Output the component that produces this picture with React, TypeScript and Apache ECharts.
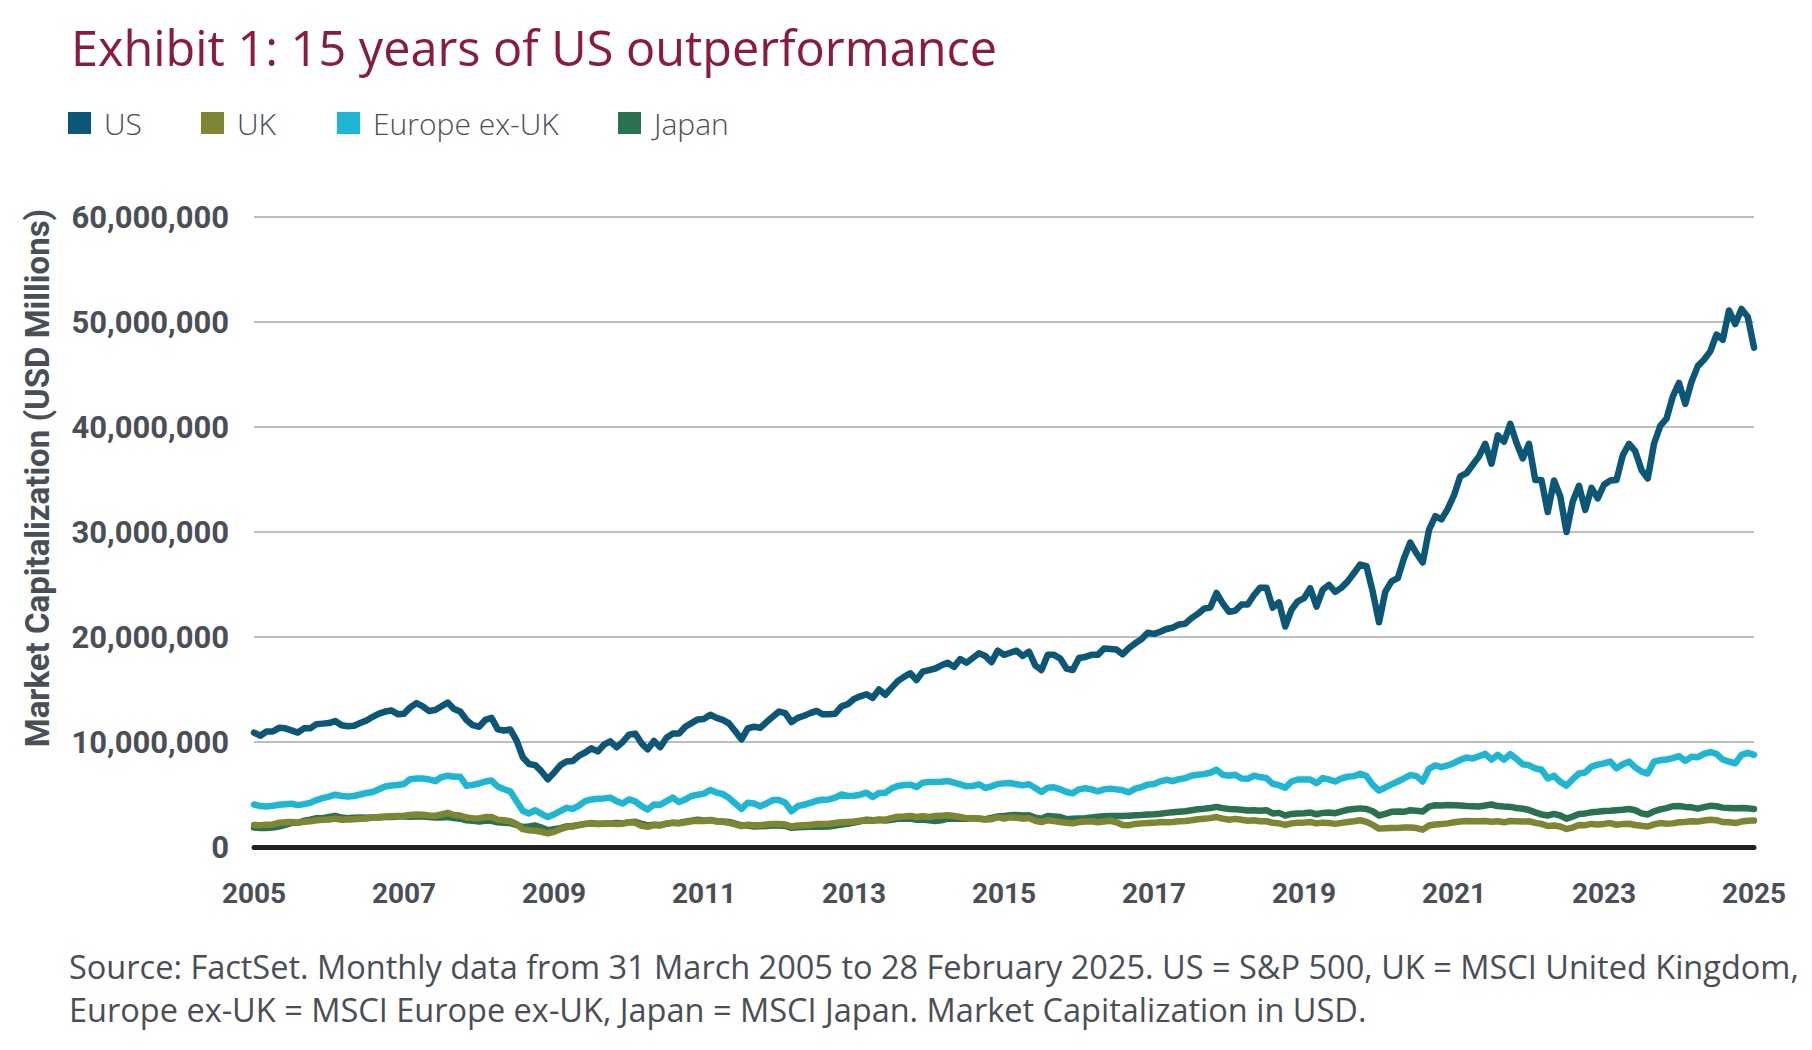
import React, { useEffect, useRef } from "react";
import * as echarts from "echarts";

// Monthly observations, Mar 2005 .. Mar 2025 (241 points), values in millions of "USD Millions"
const START_YEAR = 2005;
const START_MONTH = 3;
const N_MONTHS = 241;

const US = [
  10.9, 10.6, 11.0, 11.0, 11.35, 11.3, 11.1, 10.9, 11.3, 11.3, 11.7, 11.75, 11.8, 12.0, 11.6, 11.5, 11.55, 11.8, 12.05, 12.4,
  12.7, 12.9, 13.0, 12.65, 12.7, 13.3, 13.7, 13.4, 12.95, 13.05, 13.4, 13.75, 13.15, 12.9, 12.1, 11.6, 11.45, 12.1, 12.3, 11.2,
  11.1, 11.2, 10.15, 8.55, 7.9, 7.8, 7.2, 6.45, 7.07,
  7.78, 8.15, 8.2, 8.7, 9.0, 9.4, 9.1, 9.74, 10.06, 9.5, 10.0, 10.7, 10.8, 9.87, 9.3, 10.1, 9.5, 10.4, 10.8, 10.8,
  11.45, 11.8, 12.15, 12.2, 12.6, 12.3, 12.1, 11.77, 11.03, 10.25, 11.3, 11.45, 11.35, 11.9, 12.4, 12.9, 12.75, 11.9, 12.3, 12.5,
  12.75, 12.96, 12.64, 12.64, 12.7, 13.4, 13.6, 14.1, 14.35,
  14.55, 14.2, 15.0, 14.5, 15.15, 15.8, 16.2, 16.55, 15.9, 16.7, 16.85, 17.0, 17.3, 17.55, 17.15, 17.9, 17.55, 18.0, 18.45, 18.2,
  17.6, 18.7, 18.3, 18.5, 18.7, 18.2, 18.6, 17.3, 16.85, 18.3, 18.3, 17.95, 17.0, 16.85, 18.0, 18.1, 18.3, 18.3, 18.9, 18.85,
  18.8, 18.35, 18.95, 19.4, 19.8, 20.4, 20.3, 20.5,
  20.76, 20.9, 21.2, 21.27, 21.8, 22.2, 22.7, 22.8, 24.2, 23.2, 22.4, 22.5, 23.1, 23.1, 24.0, 24.7, 24.7, 22.8, 23.3, 21.0,
  22.6, 23.4, 23.7, 24.65, 22.9, 24.5, 24.97, 24.3, 24.7, 25.3, 26.1, 26.9, 26.75, 24.3, 21.4, 24.3, 25.3, 25.6, 27.5, 29.0,
  27.96, 27.1, 30.2, 31.5, 31.2, 32.2, 33.5,
  35.3, 35.6, 36.4, 37.2, 38.4, 36.5, 39.2, 38.6, 40.3, 38.5, 37.0, 38.4, 34.95, 34.95, 31.9, 34.9, 33.4, 30.0, 32.9, 34.4,
  32.1, 34.2, 33.2, 34.5, 34.9, 34.95, 37.3, 38.4, 37.7, 35.9, 35.1, 38.4, 40.1, 40.8, 42.9, 44.2, 42.2, 44.3, 45.8, 46.4,
  47.2, 48.8, 48.3, 51.1, 49.8, 51.24, 50.5, 47.55,
];

const UK = [
  2.1, 2.08, 2.12, 2.15, 2.3, 2.35, 2.38, 2.3, 2.4, 2.45, 2.55, 2.6, 2.62, 2.7, 2.6, 2.62, 2.65, 2.7, 2.72, 2.8,
  2.85, 2.9, 2.92, 2.95, 2.98, 3.05, 3.1, 3.08, 3.0, 2.98, 3.1, 3.25, 3.05, 3.0, 2.8, 2.75, 2.72, 2.85, 2.85, 2.6,
  2.55, 2.45, 2.2, 1.7, 1.6, 1.55, 1.45, 1.3, 1.45,
  1.7, 1.9, 1.95, 2.1, 2.2, 2.28, 2.22, 2.25, 2.25, 2.2, 2.22, 2.35, 2.3, 2.03, 1.92, 2.1, 2.05, 2.25, 2.32, 2.25,
  2.35, 2.45, 2.5, 2.48, 2.55, 2.45, 2.4, 2.3, 2.15, 1.98, 2.12, 2.08, 2.08, 2.15, 2.2, 2.2, 2.15, 1.95, 2.05, 2.08,
  2.12, 2.18, 2.18, 2.22, 2.28, 2.35, 2.38, 2.42, 2.5,
  2.52, 2.5, 2.62, 2.6, 2.75, 2.88, 2.9, 2.95, 2.85, 2.92, 2.85, 2.95, 2.98, 3.02, 2.95, 2.85, 2.75, 2.72, 2.72, 2.62,
  2.65, 2.82, 2.72, 2.82, 2.78, 2.7, 2.75, 2.5, 2.38, 2.55, 2.48, 2.38, 2.3, 2.25, 2.38, 2.42, 2.45, 2.35, 2.42, 2.5,
  2.35, 2.1, 2.08, 2.2, 2.25, 2.28, 2.3, 2.38,
  2.35, 2.38, 2.45, 2.48, 2.55, 2.65, 2.7, 2.75, 2.85, 2.7, 2.6, 2.68, 2.6, 2.5, 2.55, 2.45, 2.45, 2.3, 2.25, 2.1,
  2.25, 2.3, 2.32, 2.38, 2.25, 2.32, 2.28, 2.2, 2.3, 2.38, 2.45, 2.55, 2.4, 2.1, 1.75, 1.78, 1.8, 1.82, 1.85, 1.85,
  1.8, 1.65, 2.05, 2.15, 2.18, 2.25, 2.35,
  2.42, 2.48, 2.45, 2.45, 2.48, 2.4, 2.45, 2.35, 2.48, 2.45, 2.42, 2.45, 2.3, 2.2, 2.0, 2.05, 1.95, 1.72, 1.85, 2.1,
  2.08, 2.2, 2.15, 2.2, 2.28, 2.12, 2.18, 2.22, 2.1, 2.02, 1.95, 2.15, 2.28, 2.22, 2.25, 2.35, 2.38, 2.45, 2.42, 2.52,
  2.6, 2.55, 2.38, 2.35, 2.28, 2.42, 2.5, 2.52,
];

const EUROPE_EX_UK = [
  4.05, 3.9, 3.86, 3.92, 4.02, 4.08, 4.12, 3.99, 4.08, 4.2, 4.47, 4.66, 4.8, 4.98, 4.86, 4.82, 4.86, 5.0, 5.14, 5.24,
  5.5, 5.76, 5.85, 5.9, 6.0, 6.46, 6.53, 6.53, 6.43, 6.27, 6.66, 6.78, 6.69, 6.69, 5.82, 5.92, 6.05, 6.24, 6.33, 5.76,
  5.5, 5.3, 4.37, 3.45, 3.2, 3.5, 3.15, 2.85, 3.1,
  3.41, 3.73, 3.63, 3.95, 4.37, 4.53, 4.6, 4.63, 4.7, 4.37, 4.15, 4.53, 4.34, 3.89, 3.57, 4.05, 4.02, 4.37, 4.7, 4.28,
  4.53, 4.86, 4.98, 5.08, 5.43, 5.18, 5.05, 4.66, 4.15, 3.63, 4.21, 4.15, 3.89, 4.15, 4.47, 4.47, 4.21, 3.41, 3.89, 4.02,
  4.21, 4.4, 4.5, 4.53, 4.7, 5.0, 4.86, 4.88, 4.98,
  5.17, 4.76, 5.14, 5.17, 5.56, 5.81, 5.9, 5.94, 5.71, 6.13, 6.19, 6.19, 6.22, 6.29, 6.13, 5.97, 5.78, 5.81, 5.97, 5.62,
  5.78, 6.0, 6.06, 6.1, 5.97, 5.87, 5.97, 5.62, 5.24, 5.65, 5.68, 5.49, 5.24, 5.11, 5.49, 5.59, 5.49, 5.3, 5.49, 5.56,
  5.49, 5.4, 5.21, 5.56, 5.71, 5.94, 6.0, 6.25,
  6.4, 6.27, 6.46, 6.56, 6.78, 6.88, 6.94, 7.07, 7.36, 6.88, 6.78, 6.88, 6.53, 6.5, 6.78, 6.66, 6.56, 6.02, 5.89, 5.64,
  6.24, 6.43, 6.43, 6.43, 6.08, 6.56, 6.43, 6.24, 6.53, 6.69, 6.75, 6.97, 6.75, 5.92, 5.38, 5.67, 5.96, 6.24, 6.53, 6.85,
  6.75, 6.24, 7.45, 7.77, 7.61, 7.77, 8.0,
  8.3, 8.52, 8.42, 8.65, 8.87, 8.33, 8.78, 8.33, 8.84, 8.39, 7.88, 7.78, 7.49, 7.36, 6.53, 6.78, 6.2, 5.85, 6.46, 7.0,
  7.1, 7.65, 7.85, 7.97, 8.13, 7.49, 7.88, 8.13, 7.59, 7.17, 7.0, 8.13, 8.26, 8.33, 8.46, 8.65, 8.2, 8.59, 8.55, 8.87,
  9.04, 8.87, 8.33, 8.13, 7.97, 8.78, 8.97, 8.78,
];

const JAPAN = [
  1.85, 1.8, 1.82, 1.85, 1.95, 2.1, 2.3, 2.3, 2.5, 2.6, 2.75, 2.75, 2.85, 2.95, 2.8, 2.75, 2.78, 2.8, 2.78, 2.8,
  2.82, 2.85, 2.85, 2.9, 2.9, 2.88, 2.9, 2.9, 2.85, 2.8, 2.82, 2.85, 2.75, 2.7, 2.55, 2.5, 2.42, 2.5, 2.5, 2.35,
  2.3, 2.28, 2.1, 1.9, 1.95, 2.05, 1.85, 1.6, 1.7,
  1.8, 1.95, 2.0, 2.1, 2.2, 2.25, 2.2, 2.22, 2.25, 2.28, 2.25, 2.35, 2.4, 2.2, 2.05, 2.12, 2.1, 2.2, 2.3, 2.28,
  2.4, 2.5, 2.6, 2.5, 2.58, 2.45, 2.42, 2.38, 2.22, 2.05, 2.05, 1.95, 1.98, 2.0, 2.05, 2.05, 2.0, 1.82, 1.88, 1.9,
  1.92, 1.95, 1.92, 1.95, 2.05, 2.15, 2.22, 2.32, 2.45,
  2.6, 2.55, 2.58, 2.52, 2.6, 2.68, 2.7, 2.72, 2.6, 2.62, 2.55, 2.48, 2.55, 2.7, 2.68, 2.72, 2.7, 2.75, 2.7, 2.65,
  2.78, 2.9, 2.95, 3.02, 3.05, 3.0, 3.02, 2.8, 2.7, 2.95, 2.9, 2.85, 2.65, 2.68, 2.72, 2.75, 2.82, 2.88, 2.92, 2.95,
  2.95, 2.95, 2.98, 3.02, 3.05, 3.1, 3.12, 3.17,
  3.25, 3.3, 3.35, 3.4, 3.5, 3.6, 3.65, 3.72, 3.82, 3.7, 3.62, 3.6, 3.55, 3.48, 3.5, 3.45, 3.5, 3.2, 3.25, 3.0,
  3.15, 3.2, 3.22, 3.28, 3.12, 3.25, 3.28, 3.22, 3.4, 3.55, 3.62, 3.68, 3.62, 3.4, 3.0, 3.15, 3.35, 3.38, 3.35, 3.5,
  3.45, 3.38, 3.85, 3.98, 3.95, 4.0, 3.98,
  3.95, 3.9, 3.88, 3.85, 3.95, 4.05, 3.9, 3.85, 3.82, 3.72, 3.65, 3.52, 3.3, 3.1, 3.0, 3.15, 3.0, 2.7, 2.9, 3.15,
  3.2, 3.3, 3.35, 3.42, 3.45, 3.5, 3.55, 3.62, 3.5, 3.2, 3.1, 3.4, 3.58, 3.7, 3.88, 3.9, 3.82, 3.78, 3.65, 3.8,
  3.92, 3.88, 3.75, 3.72, 3.7, 3.72, 3.68, 3.62,
];

const UNIT = 1e6; // arrays above are in millions of "USD Millions"

const Y_MIN = 0;
const Y_MAX = 60000000;
const Y_STEP = 10000000;
const X_LABEL_EVERY = 24; // months

const SERIES_NAMES = ["US", "UK", "Europe ex-UK", "Japan"];
const COLORS: Record<string, string> = {
  US: "#0c5676",
  UK: "#7f8633",
  "Europe ex-UK": "#1fb6d2",
  Japan: "#2a7151",
};

const TITLE = "Exhibit 1: 15 years of US outperformance";
const Y_NAME = "Market Capitalization (USD Millions)";
const NOTE_1 =
  "Source: FactSet. Monthly data from 31 March 2005 to 28 February 2025. US = S&P 500, UK = MSCI United Kingdom,";
const NOTE_2 = "Europe ex-UK = MSCI Europe ex-UK, Japan = MSCI Japan. Market Capitalization in USD.";

const MONTHS: string[] = [];
for (let i = 0; i < N_MONTHS; i++) {
  const t = START_MONTH - 1 + i;
  const y = START_YEAR + Math.floor(t / 12);
  const m = (t % 12) + 1;
  MONTHS.push(`${y}-${m < 10 ? "0" + m : m}`);
}

const TEXT_GREY = "#4a4e56";

export default function App() {
  const ref = useRef<HTMLDivElement>(null);
  useEffect(() => {
    if (!ref.current) return;
    const chart = echarts.init(ref.current, undefined, { renderer: "svg" });

    const dataFor: Record<string, number[]> = {
      US,
      UK,
      "Europe ex-UK": EUROPE_EX_UK,
      Japan: JAPAN,
    };
    const drawOrder = ["Japan", "UK", "Europe ex-UK", "US"];

    const legendX = [68, 201, 337, 618];
    const legendGraphics: any[] = [];
    SERIES_NAMES.forEach((name, i) => {
      legendGraphics.push({
        type: "rect",
        shape: { x: legendX[i], y: 112, width: 23, height: 22 },
        style: { fill: COLORS[name] },
      });
      legendGraphics.push({
        type: "text",
        x: legendX[i] + 36,
        y: 123,
        style: {
          text: name,
          fill: TEXT_GREY,
          fontSize: 30,
          fontFamily: "Open Sans",
          fontWeight: 300,
          align: "left",
          verticalAlign: "middle",
        },
      });
    });

    chart.setOption({
      animation: false,
      backgroundColor: "#ffffff",
      grid: { left: 254, right: 58, top: 217, bottom: 203, containLabel: false },
      xAxis: {
        type: "category",
        data: MONTHS,
        boundaryGap: false,
        axisLine: { show: true, onZero: true, lineStyle: { color: "#231f20", width: 5 } },
        axisTick: { show: false },
        splitLine: { show: false },
        axisLabel: {
          interval: X_LABEL_EVERY - 1,
          formatter: (v: string) => v.slice(0, 4),
          fontFamily: "Roboto",
          fontWeight: "bold",
          fontSize: 28,
          color: TEXT_GREY,
          margin: 32,
        },
      },
      yAxis: {
        type: "value",
        min: Y_MIN,
        max: Y_MAX,
        interval: Y_STEP,
        axisLine: { show: false },
        axisTick: { show: false },
        splitLine: { lineStyle: { color: "#a9a9a9", width: 1.5 } },
        axisLabel: {
          formatter: (v: number) => v.toLocaleString("en-US"),
          fontFamily: "Roboto",
          fontWeight: "bold",
          fontSize: 31,
          color: TEXT_GREY,
          margin: 25,
        },
      },
      series: drawOrder.map((name) => ({
        name,
        type: "line",
        data: dataFor[name].map((v) => v * UNIT),
        symbol: "none",
        showSymbol: false,
        smooth: false,
        lineStyle: { color: COLORS[name], width: 6.5, join: "round", cap: "round" },
        itemStyle: { color: COLORS[name] },
        z: 3,
      })),
      graphic: [
        {
          type: "text",
          x: 71,
          y: 47,
          style: {
            text: TITLE,
            fill: "#8b1a40",
            fontSize: 48.6,
            fontFamily: "Open Sans",
            align: "left",
            verticalAlign: "middle",
          },
        },
        ...legendGraphics,
        {
          type: "text",
          x: 37,
          y: 478,
          rotation: Math.PI / 2,
          style: {
            text: Y_NAME,
            fill: TEXT_GREY,
            fontSize: 33,
            fontWeight: "bold",
            fontFamily: "Roboto",
            align: "center",
            verticalAlign: "middle",
          },
        },
        {
          type: "text",
          x: 69,
          y: 966,
          style: {
            text: NOTE_1,
            fill: TEXT_GREY,
            fontSize: 32.5,
            fontFamily: "Open Sans",
            align: "left",
            verticalAlign: "middle",
          },
        },
        {
          type: "text",
          x: 69,
          y: 1009,
          style: {
            text: NOTE_2,
            fill: TEXT_GREY,
            fontSize: 32.5,
            fontFamily: "Open Sans",
            align: "left",
            verticalAlign: "middle",
          },
        },
      ],
    });

    return () => chart.dispose();
  }, []);

  return (
    <div
      ref={ref}
      style={{ position: "fixed", left: 0, top: 0, width: 1812, height: 1050, background: "#fff" }}
    />
  );
}
